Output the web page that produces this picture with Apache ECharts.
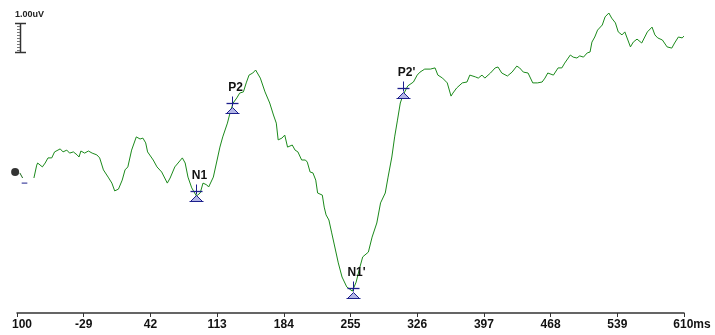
<!DOCTYPE html>
<html>
<head>
<meta charset="utf-8">
<script src="https://cdn.jsdelivr.net/npm/echarts@6/dist/echarts.min.js"></script>
<style>
html,body{margin:0;padding:0;background:#fff;}
#c{width:715px;height:335px;}
</style>
</head>
<body>
<div id="c"></div>
<script>
// X tick labels (evenly spaced from -100 to 610 ms)
var tickLabels = ['100', '-29', '42', '113', '184', '255', '326', '397', '468', '539', '610'];

// Waveform: time (ms) and amplitude (uV)
var waveTimes = [-82,-79,-78,-73,-70,-67,-63,-60,-54,-51,-47,-44,-40,-36,-34,-32,-28,-24,-20,-15,-12,-8,-3,1,4,8,12,15,18,22,27,31,34,37,39,45,49,54,60,63,68,76,79,82,86,91,95,98,102,104,109,113,116,119,124,127,130,134,137,141,144,147,151,154,159,164,166,169,173,176,178,182,185,188,193,196,199,203,207,209,212,215,218,220,225,227,229,232,235,239,242,246,251,257,261,265,268,274,278,283,287,292,295,299,302,305,308,311,316,322,326,329,334,340,345,348,353,358,362,364,368,374,379,382,388,391,395,398,404,409,412,416,422,427,432,435,439,444,449,454,459,462,465,471,476,480,483,489,492,496,499,503,507,510,512,515,518,523,526,530,533,537,540,544,547,553,556,560,565,571,576,579,582,587,592,597,600,604,608,610];
var waveValues = [-0.2,0.23,0.3,0.17,0.3,0.47,0.47,0.67,0.77,0.67,0.73,0.63,0.67,0.57,0.5,0.7,0.63,0.7,0.63,0.57,0.47,0.07,-0.17,-0.37,-0.63,-0.57,-0.27,0.07,0.17,0.73,1.17,1.1,1.13,0.97,0.67,0.4,0.17,0,-0.37,-0.2,0.17,0.47,0.3,-0.17,-0.53,-0.8,-0.7,-0.37,-0.43,-0.5,-0.17,0.4,0.83,1.17,1.63,2.0,2.3,2.47,2.63,2.67,2.97,3.23,3.3,3.4,3.13,2.67,2.63,2.3,1.9,1.63,1.07,1.13,1.23,0.83,0.9,0.73,0.67,0.4,0.4,0.33,0,-0.03,-0.27,-0.7,-0.77,-1.17,-1.43,-1.6,-2.03,-2.6,-3.03,-3.5,-3.83,-3.97,-3.67,-3.17,-2.83,-2.67,-2.17,-1.7,-1.03,-0.7,-0.17,0.5,1.17,1.73,2.3,2.57,2.87,3.0,3.23,3.33,3.43,3.43,3.47,3.23,3.13,2.97,2.53,2.63,2.8,2.97,3.0,3.23,3.17,3.13,3.23,3.13,3.3,3.47,3.5,3.3,3.2,3.33,3.53,3.47,3.33,3.3,2.97,2.97,3.0,3.13,3.3,3.23,3.47,3.47,3.63,3.9,3.83,3.8,3.87,3.83,3.97,4.0,4.33,4.5,4.73,4.9,5.17,5.3,5.13,4.97,4.67,4.57,4.67,4.17,4.33,4.43,4.3,4.67,4.83,4.57,4.47,4.4,4.17,4.13,4.3,4.5,4.47,4.53];

// Short leading segment after the baseline marker
var leadTimes = [-97, -94];
var leadValues = [-0.03, -0.2];
var dashTimes = [-95, -89];
var dashValues = [-0.37, -0.37];

// Baseline marker
var baseTime = [-102];
var baseValue = [0];

// Peak markers
var markerNames = ['N1', 'P2', "N1'", "P2'"];
var markerTimes = [91, 129, 258, 311];
var markerValues = [-0.63, 2.3, -3.87, 2.8];

function pairs(xs, ys) { return xs.map(function (x, i) { return [x, ys[i]]; }); }

var navy = '#1c1f8c';
var chart = echarts.init(document.getElementById('c'), null, { renderer: 'canvas' });

var option = {
  animation: false,
  backgroundColor: '#ffffff',
  grid: { left: 17, right: 31, top: 10, bottom: 22, containLabel: false },
  xAxis: [
    { type: 'value', min: -100, max: 610, position: 'bottom', show: false, splitLine: { show: false } },
    {
      type: 'category', data: tickLabels, boundaryGap: false, position: 'bottom',
      axisLine: { show: true, lineStyle: { color: '#333', width: 1.5 } },
      axisTick: { show: true, length: 4, interval: 0, lineStyle: { color: '#333', width: 1 } },
      axisLabel: {
        interval: 0, margin: 6, color: '#111',
        fontFamily: 'Liberation Sans', fontWeight: 'bold', fontSize: 12,
        formatter: function (v, i) {
          if (i === 0) return '{f|' + v + '}';
          if (i === tickLabels.length - 1) return '{l|' + v + 'ms}';
          return v;
        },
        rich: {
          f: { padding: [0, 0, 0, 10], fontFamily: 'Liberation Sans', fontWeight: 'bold', fontSize: 12, color: '#111' },
          l: { padding: [0, 0, 0, 16], fontFamily: 'Liberation Sans', fontWeight: 'bold', fontSize: 12, color: '#111' }
        }
      },
      splitLine: { show: false }
    }
  ],
  yAxis: { type: 'value', min: -4.7, max: 5.4, show: false, splitLine: { show: false } },
  series: [
    {
      type: 'line', xAxisIndex: 0, data: pairs(waveTimes, waveValues),
      showSymbol: false, symbol: 'none', lineStyle: { color: '#1b8a1b', width: 1 }, z: 2
    },
    {
      type: 'line', xAxisIndex: 0, data: pairs(leadTimes, leadValues),
      showSymbol: false, symbol: 'none', lineStyle: { color: '#1b6a1b', width: 1 }, clip: false, z: 2
    },
    {
      type: 'line', xAxisIndex: 0, data: pairs(dashTimes, dashValues),
      showSymbol: false, symbol: 'none', lineStyle: { color: navy, width: 1 }, clip: false, z: 2
    },
    {
      type: 'scatter', xAxisIndex: 0, data: pairs(baseTime, baseValue), clip: false,
      symbol: 'circle', symbolSize: 8, itemStyle: { color: '#000' }, z: 3
    },
    {
      type: 'custom', xAxisIndex: 0, clip: false, z: 4,
      data: pairs(markerTimes, markerValues),
      renderItem: function (params, api) {
        var p = api.coord([api.value(0), api.value(1)]);
        var x = Math.round(p[0]) + 0.5, y = Math.round(p[1]) + 0.5;
        return {
          type: 'group',
          children: [
            { type: 'polygon', shape: { points: [[x, y + 4], [x - 6, y + 10], [x + 6, y + 10]] },
              style: { fill: '#b3b6e6', stroke: navy, lineWidth: 1 } },
            { type: 'line', shape: { x1: x - 7, y1: y + 10, x2: x + 7, y2: y + 10 }, style: { stroke: navy, lineWidth: 1 } },
            { type: 'line', shape: { x1: x, y1: y - 7, x2: x, y2: y + 3 }, style: { stroke: navy, lineWidth: 1 } },
            { type: 'line', shape: { x1: x - 6, y1: y, x2: x + 6, y2: y }, style: { stroke: navy, lineWidth: 1.3 } },
            { type: 'text', style: { text: markerNames[params.dataIndex], x: x + 3, y: y - 16,
              align: 'center', verticalAlign: 'middle', font: 'bold 12px "Liberation Sans"', fill: '#111' } }
          ]
        };
      }
    }
  ],
  graphic: [
    { type: 'text', left: 15, top: 10, style: { text: '1.00uV', font: 'bold 9px "Liberation Sans"', fill: '#222' } },
    { type: 'line', shape: { x1: 20.5, y1: 23, x2: 20.5, y2: 53 }, style: { stroke: '#333', lineWidth: 1.5 } },
    { type: 'line', shape: { x1: 15, y1: 23.5, x2: 26, y2: 23.5 }, style: { stroke: '#333', lineWidth: 1.5 } },
    { type: 'line', shape: { x1: 15, y1: 52.5, x2: 26, y2: 52.5 }, style: { stroke: '#333', lineWidth: 1.5 } },
    { type: 'group', children: [26, 29, 32, 35, 38, 41, 44, 47, 50].map(function (yy) {
        return { type: 'line', shape: { x1: 17, y1: yy + 0.5, x2: 20, y2: yy + 0.5 }, style: { stroke: '#777', lineWidth: 1 } };
      }) }
  ]
};
chart.setOption(option);
</script>
</body>
</html>
